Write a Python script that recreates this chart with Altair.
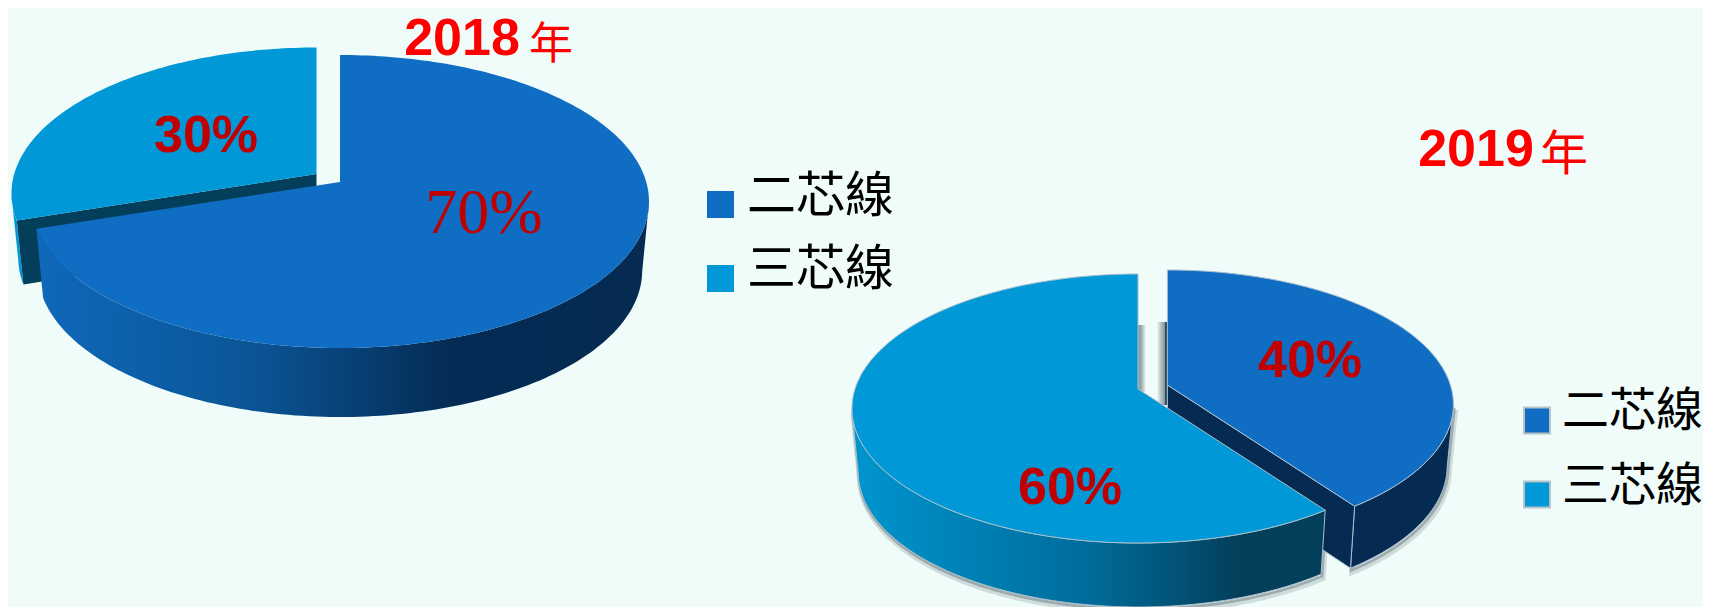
import numpy as np
import pandas as pd
import altair as alt

# ---- values ----
years = ["2018", "2019"]
categories = ["二芯線", "三芯線"]
shares_2018 = [70, 30]
shares_2019 = [40, 60]
year_suffix = "年"

# ---- colours ----
BG = "#EFFCFA"
BLUE = "#0F6DC4"
CYAN = "#0098D6"
DARK_BLUE = "#052B53"
DARK_CYAN = "#033F5A"
EDGE = "#A9C0CE"
W, H = 1695, 599
OX, OY = 8, 8

X = alt.Scale(domain=[OX, OX + W])
Y = alt.Scale(domain=[OY + H, OY])
x_enc = alt.X("x:Q", scale=X, axis=None)
y_enc = alt.Y("y:Q", scale=Y, axis=None)


def rim(ax, ay, rx, ry, off, t1, t2):
    """Points of the elliptic rim seen from a perspective-shifted apex; t in share %."""
    th = np.radians(np.linspace(t1, t2, int(abs(t2 - t1) * 3) + 2) * 3.6)
    s, c = np.sin(th), np.cos(th)
    e = off / ry
    t = -e * c + np.sqrt(e * e * c * c + 1 - e * e)
    u, v = t * s, -e - t * c
    return ax + rx * u, ay + off + ry * v, v


def poly(xs, ys, **mark):
    df = pd.DataFrame({"x": list(xs) + [xs[0]], "y": list(ys) + [ys[0]]})
    df["i"] = range(len(df))
    mark.setdefault("strokeWidth", 0)
    return alt.Chart(df).mark_line(**mark).encode(x=x_enc, y=y_enc, order=alt.Order("i:Q"))


class Slice:
    def __init__(self, ax, ay, rx, ry, off, depth, t1, t2, k=0.978):
        self.__dict__.update(locals())

    def top(self, fill, **kw):
        x, y, _ = rim(self.ax, self.ay, self.rx, self.ry, self.off, self.t1, self.t2)
        return poly([self.ax] + list(x), [self.ay] + list(y), fill=fill, strokeJoin="round", **kw)

    def wall_xy(self, dx=0, dy=0):
        x, y, v = rim(self.ax, self.ay, self.rx, self.ry, self.off, self.t1, self.t2)
        m = v >= 0
        x, y = x[m], y[m]
        bx = self.ax + (x - self.ax) * self.k
        by = y + self.depth
        return list(x + dx) + list(bx[::-1] + dx), list(y + dy) + list(by[::-1] + dy)

    def wall(self, fill, **kw):
        xs, ys = self.wall_xy()
        return poly(xs, ys, fill=fill, **kw)

    def cut(self, t, fill, **kw):
        x, y, _ = rim(self.ax, self.ay, self.rx, self.ry, self.off, t, t)
        px, py = x[0], y[0]
        qx = self.ax + (px - self.ax) * self.k
        return poly([self.ax, px, qx, self.ax], [self.ay, py, py + self.depth, self.ay + self.depth], fill=fill, **kw)


def grad(stops):
    return alt.Gradient(
        gradient="linear", x1=0, x2=1, y1=0, y2=0,
        stops=[alt.GradientStop(offset=o, color=c) for o, c in stops],
    )


def text(x, y, label, size, color, font, weight="normal", align="center"):
    df = pd.DataFrame({"x": [x], "y": [y], "label": [label]})
    return alt.Chart(df).mark_text(
        fontSize=size, color=color, font=font, fontWeight=weight, align=align, baseline="middle"
    ).encode(x=x_enc, y=y_enc, text="label:N")


def legend_square(x, y, color, stroke=None):
    df = pd.DataFrame({"x": [x], "y": [y]})
    kw = dict(stroke=stroke, strokeWidth=2) if stroke else dict(strokeWidth=0)
    return alt.Chart(df).mark_square(size=729 if not stroke else 676, color=color, opacity=1, **kw).encode(x=x_enc, y=y_enc)


def strip(x1, x2, y1, y2, fill):
    df = pd.DataFrame({"x": [x1], "x2": [x2], "y": [y1], "y2": [y2]})
    return alt.Chart(df).mark_rect(fill=fill).encode(x=x_enc, x2="x2:Q", y=y_enc, y2="y2:Q")


layers = []

# ---- 2018 pie ----
a, b = shares_2018
big18 = Slice(340, 182, 309, 146.5, 19.5, 69, 0, a)
small18 = Slice(316.5, 174, 305, 146, 19.5, 64, a, a + b)
layers += [
    small18.wall(CYAN),
    small18.cut(a, DARK_CYAN),
    small18.top(CYAN),
    big18.wall(grad([(0, "#0F68BA"), (0.35, "#0B5597"), (0.68, "#042B53"), (1, DARK_BLUE)])),
    big18.top(BLUE),
]

# ---- 2019 pie ----
a, b = shares_2019
left19 = Slice(1167.4, 385, 286, 134.5, 19.5, 62, 0, a)
right19 = Slice(1138, 389, 286, 134.5, 19.5, 64, a, a + b)
for slc in (left19, right19):
    for off, op, wd in ((4, 0.18, 6), (2, 0.35, 3)):
        xs, ys = slc.wall_xy(dx=off * 0.4, dy=off)
        layers.append(poly(xs, ys, stroke="#3E4F55", strokeWidth=wd, opacity=op))
layers += [
    strip(1157, 1168, 322, 405, grad([(0, BG), (0.35, "#B4C2C4"), (0.75, "#7F9094"), (0.76, "#2A4A68"), (1, "#2A4A68")])),
    strip(1136, 1146, 325, 392, grad([(0, "#7F9094"), (0.5, "#98A8AA"), (1, BG)])),
    left19.wall(DARK_BLUE, stroke=EDGE, strokeWidth=1),
    left19.cut(a, DARK_BLUE, stroke=EDGE, strokeWidth=1),
    left19.top(BLUE, stroke=EDGE, strokeWidth=1),
    right19.wall(grad([(0, "#0095CF"), (0.5, "#006C9B"), (0.82, DARK_CYAN), (1, DARK_CYAN)]),
                 stroke=EDGE, strokeWidth=1),
    right19.top(CYAN, stroke=EDGE, strokeWidth=1),
]

# ---- labels ----
SANS = "Liberation Sans"
CJK = "Noto Sans CJK TC"
RED = "#FF0000"
DRED = "#C00000"
layers += [
    text(462, 39, years[0], 52, RED, SANS, "bold"),
    text(551, 46, year_suffix, 44, RED, CJK),
    text(1476, 150, years[1], 52, RED, SANS, "bold"),
    text(1564, 156, year_suffix, 48, RED, CJK),
    text(206, 136, f"{shares_2018[1]}%", 52, DRED, SANS, "bold"),
    text(484, 214, f"{shares_2018[0]}%", 64, DRED, "Liberation Serif"),
    text(1310, 361, f"{shares_2019[0]}%", 52, DRED, SANS, "bold"),
    text(1070, 488, f"{shares_2019[1]}%", 52, DRED, SANS, "bold"),
]

# ---- legends ----
for (sx, tx, ys, ty, st, fs) in (
    (720.5, 747, (204.5, 278.5), (197, 270), None, 49),
    (1537, 1562, (420.5, 494.5), (412, 487), "#B7C3C8", 47),
):
    for cat, col, sy, yy in zip(categories, (BLUE, CYAN), ys, ty):
        layers.append(legend_square(sx, sy, col, st))
        layers.append(text(tx, yy, cat, fs, "#000000", CJK, align="left"))

chart = (
    alt.layer(*layers)
    .properties(width=W, height=H, background=BG, padding=0,
                autosize=alt.AutoSizeParams(type="none"))
    .configure_view(stroke=None)
)
chart.save("out.html", embed_options={"renderer": "svg", "actions": False})
